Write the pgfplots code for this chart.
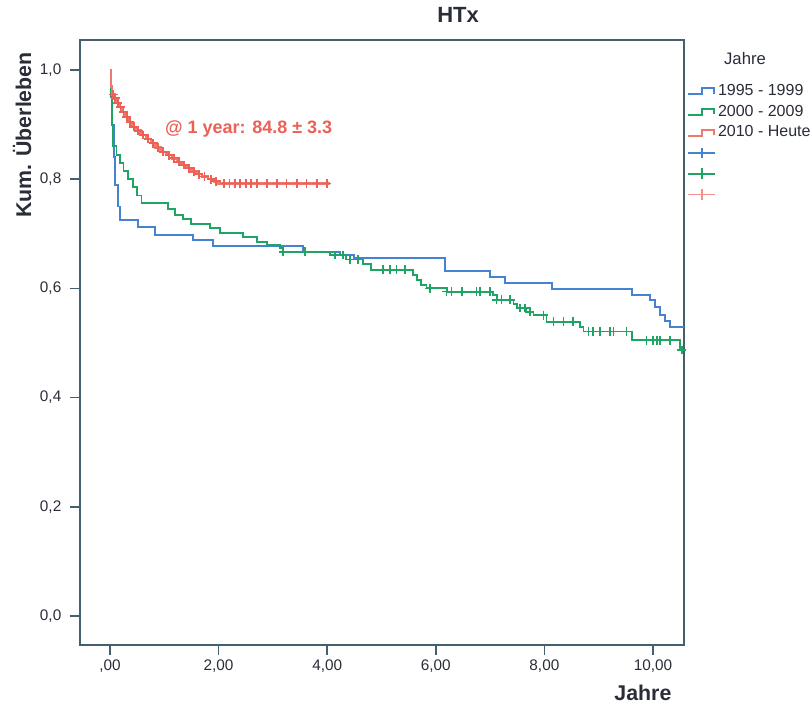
\documentclass[border=0pt]{standalone}
\usepackage{pgfplots}
\usepackage{pgfplotstable}
\pgfplotsset{compat=1.18}
\usepackage{fontspec}
\setmainfont{Liberation Sans}
\definecolor{cblue}{RGB}{70,130,210}
\definecolor{cgreen}{RGB}{30,165,100}
\definecolor{cred}{RGB}{236,96,86}
\definecolor{framecol}{RGB}{70,95,110}
\definecolor{txt}{RGB}{40,45,55}

\pgfplotsset{
  kmleg/.style={legend image code/.code={\draw[##1] (0pt,-2.5pt) -- (10pt,-2.5pt) -- (10pt,2pt) -- (19pt,2pt) -- (19pt,-2pt);}},
  censleg/.style={legend image code/.code={\draw[#1, line width=1.3pt] (0pt,0pt) -- (20pt,0pt); \draw[#1, line width=1.3pt] (10pt,-4pt) -- (10pt,4pt);}},
}

\pgfplotstableread{
x y
0 1.0
0.02 0.96
0.04 0.90
0.07 0.84
0.10 0.79
0.14 0.75
0.18 0.725
0.52 0.713
0.83 0.698
1.53 0.688
1.90 0.677
3.55 0.667
4.24 0.661
4.50 0.656
6.17 0.632
7.00 0.621
7.27 0.610
8.14 0.599
9.61 0.588
9.94 0.579
10.04 0.566
10.13 0.551
10.22 0.540
10.31 0.529
10.57 0.529
}\blueKM

\pgfplotstableread{
x y
0 1.0
0.01 0.95
0.03 0.90
0.06 0.86
0.12 0.845
0.18 0.83
0.25 0.815
0.33 0.80
0.42 0.785
0.50 0.77
0.58 0.757
1.07 0.745
1.20 0.734
1.35 0.727
1.50 0.718
1.84 0.711
2.03 0.701
2.45 0.694
2.71 0.685
2.89 0.679
3.13 0.674
3.19 0.667
4.05 0.661
4.35 0.653
4.66 0.645
4.80 0.634
5.58 0.625
5.65 0.615
5.72 0.606
5.83 0.600
6.20 0.594
7.06 0.588
7.12 0.579
7.43 0.571
7.50 0.564
7.67 0.557
7.80 0.551
8.04 0.539
8.66 0.530
8.72 0.521
9.61 0.505
10.50 0.487
10.57 0.487
}\greenKM

\pgfplotstableread{
x y
3.19 0.667
3.59 0.667
4.14 0.661
4.29 0.661
4.42 0.653
4.57 0.653
5.03 0.634
5.16 0.634
5.28 0.634
5.43 0.634
5.89 0.600
6.20 0.594
6.29 0.594
6.48 0.594
6.75 0.594
6.81 0.594
7.00 0.594
7.12 0.579
7.21 0.579
7.37 0.579
7.55 0.564
7.64 0.564
7.73 0.557
7.98 0.551
8.17 0.539
8.35 0.539
8.53 0.539
8.81 0.521
8.90 0.521
9.02 0.521
9.21 0.521
9.27 0.521
9.51 0.521
9.88 0.505
10.00 0.505
10.07 0.505
10.13 0.505
10.31 0.505
10.53 0.487
}\greenCens

\pgfplotstableread{
x y
0 1.0
0.02 0.97
0.04 0.955
0.08 0.948
0.12 0.94
0.17 0.932
0.22 0.923
0.28 0.914
0.34 0.905
0.40 0.896
0.48 0.889
0.56 0.881
0.66 0.874
0.75 0.866
0.84 0.858
0.93 0.850
1.04 0.844
1.14 0.838
1.23 0.832
1.32 0.826
1.41 0.820
1.50 0.814
1.60 0.809
1.69 0.805
1.80 0.800
1.92 0.796
2.00 0.792
4.05 0.792
}\redKM

\pgfplotstableread{
x y
0.06 0.955
0.10 0.948
0.145 0.94
0.195 0.932
0.25 0.923
0.31 0.914
0.37 0.905
0.44 0.896
0.52 0.889
0.61 0.881
0.70 0.874
0.80 0.866
0.88 0.858
0.98 0.850
1.09 0.844
1.18 0.838
1.27 0.832
1.36 0.826
1.45 0.820
1.55 0.814
1.64 0.809
1.74 0.805
1.86 0.800
1.96 0.796
2.10 0.792
2.20 0.792
2.30 0.792
2.40 0.792
2.50 0.792
2.60 0.792
2.70 0.792
2.89 0.792
3.07 0.792
3.25 0.792
3.44 0.792
3.62 0.792
3.81 0.792
3.99 0.792
}\redCens

\begin{document}
\begin{tikzpicture}
\useasboundingbox (-60pt,-47.25pt) rectangle (548.25pt,483.75pt);
\begin{axis}[
  at={(0pt,0pt)}, anchor=south west,
  scale only axis, width=453pt, height=453.75pt,
  xmin=-0.552, xmax=10.571, ymin=-0.0531, ymax=1.0549,
  xtick={0,2,4,6,8,10},
  xticklabels={{,00},{2,00},{4,00},{6,00},{8,00},{10,00}},
  ytick={0,0.2,0.4,0.6,0.8,1.0},
  yticklabels={{0,0},{0,2},{0,4},{0,6},{0,8},{1,0}},
  tick align=outside, xtick pos=bottom, ytick pos=left,
  major tick length=7.5pt,
  every tick/.style={framecol, line width=1.2pt},
  axis line style={framecol, line width=1.4pt},
  ticklabel style={font=\fontsize{11.5pt}{13pt}\selectfont, text=txt},
  yticklabel style={xshift=-3pt},
  title={HTx},
  title style={font=\fontsize{16.5pt}{18pt}\selectfont\bfseries, text=txt,
    at={(axis description cs:0.626,1.028)}, anchor=center},
  xlabel={Jahre},
  xlabel style={font=\fontsize{16pt}{18pt}\selectfont\bfseries, text=txt,
    at={(axis description cs:0.932,-0.079)}, anchor=center},
  ylabel={Kum. Überleben},
  ylabel style={font=\fontsize{16pt}{18pt}\selectfont\bfseries, text=txt,
    at={(axis description cs:-0.096,0.843)}, anchor=center},
  legend style={at={(axis description cs:1.005,0.932)}, anchor=north west,
    draw=none, fill=none, inner sep=0pt, row sep=1pt,
    font=\fontsize{12pt}{14pt}\selectfont, text=txt,
    nodes={inner sep=1.5pt, text height=9pt, text depth=2.5pt}},
  legend cell align=left,
  clip=false,
]
\addplot[cblue, line width=1.4pt, const plot, mark=none, kmleg]
  table[x=x,y=y] {\blueKM};
\addlegendentry{1995 - 1999}
\addplot[cgreen, line width=1.4pt, const plot, mark=none, kmleg]
  table[x=x,y=y] {\greenKM};
\addlegendentry{2000 - 2009}
\addplot[cred!85, line width=1.8pt, const plot, mark=none, kmleg]
  table[x=x,y=y] {\redKM};
\addlegendentry{2010 - Heute}
\addlegendimage{censleg=cblue}
\addlegendentry{\mbox{}}
\addplot[cgreen, only marks, mark=+, mark size=3.3pt, mark options={line width=1.2pt}, censleg=cgreen]
  table[x=x,y=y] {\greenCens};
\addlegendentry{\mbox{}}
\addplot[cred, only marks, mark=+, mark size=3.3pt, mark options={line width=1.4pt}, censleg=cred!70]
  table[x=x,y=y] {\redCens};
\addlegendentry{\mbox{}}
\node[anchor=west, inner sep=0pt, text=cred, font=\fontsize{13.5pt}{15pt}\selectfont\bfseries]
  at (axis cs:1.01,0.892) {@ 1 year: 84.8 ± 3.3};
\node[anchor=center, inner sep=0pt, text=txt, font=\fontsize{12.5pt}{14pt}\selectfont]
  at (axis description cs:1.101,0.970) {Jahre};
\end{axis}
\end{tikzpicture}
\end{document}
